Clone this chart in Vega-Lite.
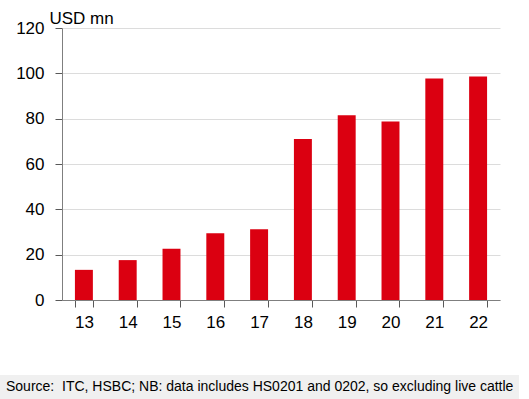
{
  "$schema": "https://vega.github.io/schema/vega-lite/v6.json",
  "autosize": {"type": "none"},
  "padding": {"left": 62, "top": 28, "right": 29, "bottom": 99},
  "width": 438,
  "height": 272,
  "background": "white",
  "config": {"view": {"stroke": null}, "font": "Liberation Sans"},
  "data": {"values": [
    {"year": "13", "value": 13.3},
    {"year": "14", "value": 17.6},
    {"year": "15", "value": 22.6},
    {"year": "16", "value": 29.5},
    {"year": "17", "value": 31.2},
    {"year": "18", "value": 71.0},
    {"year": "19", "value": 81.5},
    {"year": "20", "value": 78.8},
    {"year": "21", "value": 97.7},
    {"year": "22", "value": 98.6}
  ]},
  "mark": {"type": "bar"},
  "encoding": {
    "x": {
      "field": "year", "type": "ordinal", "sort": null,
      "scale": {"paddingInner": 0.59, "paddingOuter": 0.295},
      "axis": {"title": null, "labelAngle": 0, "labelFontSize": 17, "labelColor": "#000000",
               "labelPadding": 7, "domainColor": "#7f7f7f", "tickColor": "#595959",
               "tickBand": "extent", "tickSize": 7, "grid": false}
    },
    "y": {
      "field": "value", "type": "quantitative",
      "scale": {"domain": [0, 120], "nice": false},
      "axis": {"values": [0, 20, 40, 60, 80, 100, 120], "labelFontSize": 17, "labelColor": "#000000",
               "labelPadding": 11, "domainColor": "#7f7f7f", "tickColor": "#595959", "tickSize": 7,
               "gridColor": "#dcdcdc", "title": "USD mn", "titleAngle": 0, "titleAlign": "left",
               "titleBaseline": "alphabetic", "titleX": -13, "titleY": -5, "titleFontSize": 17,
               "titleFontWeight": "normal", "titleColor": "#000000"}
    },
    "color": {
      "datum": "Source: \u00a0ITC, HSBC; NB: data includes HS0201 and 0202, so excluding live cattle",
      "type": "nominal",
      "scale": {"range": ["#DB0011"]},
      "legend": {"orient": "none", "legendX": -75, "legendY": 347, "title": null,
                 "fillColor": "#f0f0f0", "strokeColor": null, "padding": 5,
                 "symbolSize": 0, "symbolOpacity": 0, "symbolStrokeWidth": 0,
                 "labelFontSize": 14, "labelOffset": 0, "labelLimit": 600, "labelColor": "#000000"}
    }
  }
}
